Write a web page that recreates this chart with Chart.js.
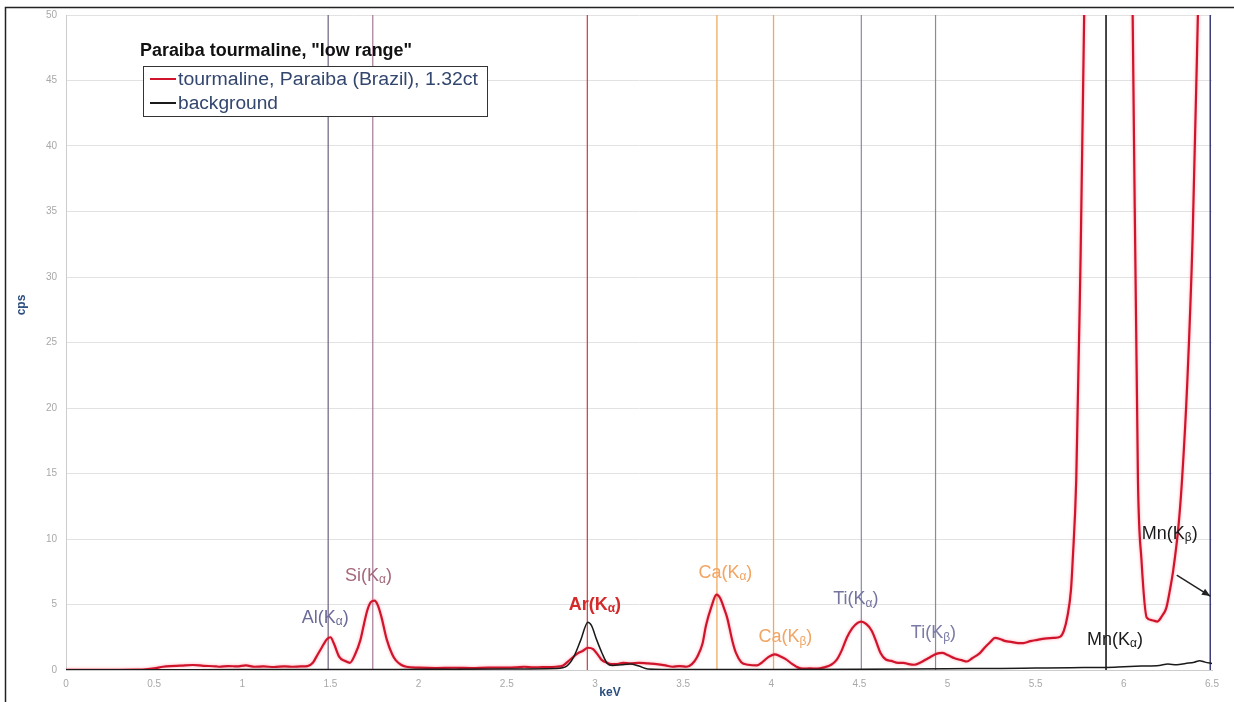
<!DOCTYPE html>
<html>
<head>
<meta charset="utf-8">
<script src="https://cdn.jsdelivr.net/npm/chart.js@4/dist/chart.umd.min.js"></script>
<style>
html,body{margin:0;padding:0;background:#fff;}
#wrap{position:relative;width:1234px;height:702px;}
canvas{display:block;}
</style>
</head>
<body>
<div id="wrap"><canvas id="c" width="1234" height="702"></canvas></div>
<script>
// ---------- DATA ----------
const chartTitle = 'Paraiba tourmaline, "low range"';
const seriesNames = ['tourmaline, Paraiba (Brazil), 1.32ct', 'background'];
const xAxisTitle = 'keV';
const yAxisTitle = 'cps';

const xTickValues = [0,0.5,1,1.5,2,2.5,3,3.5,4,4.5,5,5.5,6,6.5];
const xTickLabels = ['0','0.5','1','1.5','2','2.5','3','3.5','4','4.5','5','5.5','6','6.5'];
const yTickValues = [0,5,10,15,20,25,30,35,40,45,50];
const yTickLabels = ['0','5','10','15','20','25','30','35','40','45','50'];

const keVTourmaline = [
 0.00,0.10,0.20,0.30,0.40,0.45,0.50,0.55,0.59,0.65,0.72,0.78,0.85,0.87,0.92,0.97,1.02,1.07,1.12,1.18,1.24,1.29,1.33,1.37,
 1.40,1.42,1.45,1.48,1.50,1.52,1.55,1.58,1.61,1.64,1.67,1.69,1.71,1.73,1.75,1.77,1.79,1.82,1.85,1.87,1.90,1.93,
 2.00,2.10,2.20,2.30,2.40,2.50,2.55,2.60,2.65,2.70,2.78,2.82,2.86,2.90,2.93,2.96,2.99,3.02,3.04,3.07,3.09,3.12,3.16,3.20,
 3.25,3.30,3.35,3.40,3.44,3.48,3.52,3.55,3.58,3.61,3.63,3.66,3.69,3.71,3.73,3.75,3.78,3.80,3.83,3.87,3.92,3.95,3.98,
 4.02,4.05,4.08,4.12,4.15,4.18,4.22,4.26,4.30,4.34,4.37,4.40,4.43,4.46,4.49,4.51,4.54,4.57,4.60,4.62,4.65,4.68,4.72,
 4.75,4.78,4.81,4.85,4.89,4.94,4.97,5.00,5.04,5.08,5.11,5.14,5.18,5.21,5.24,5.27,5.30,5.33,5.36,5.40,5.43,5.47,5.51,
 5.55,5.60,5.64,5.66,5.68,5.70,5.71,5.73,5.75,5.775,5.80,5.85,5.90,5.95,6.00,6.03,6.05,6.08,6.10,6.13,6.16,6.19,6.22,
 6.24,6.26,6.28,6.31,6.33,6.36,6.39,6.42,6.46,6.50
];
const cpsTourmaline = [
 0.02,0.02,0.02,0.02,0.03,0.05,0.12,0.25,0.30,0.33,0.38,0.32,0.28,0.25,0.30,0.27,0.35,0.25,0.27,0.23,0.28,0.25,0.27,0.30,
 0.55,1.0,1.7,2.35,2.5,2.0,1.0,0.7,0.55,1.2,2.3,3.5,4.6,5.2,5.3,4.9,4.0,2.3,1.2,0.75,0.4,0.25,
 0.18,0.15,0.17,0.15,0.18,0.18,0.20,0.25,0.20,0.22,0.25,0.35,0.8,1.25,1.45,1.7,1.6,1.1,0.75,0.55,0.45,0.45,0.55,0.50,
 0.55,0.50,0.45,0.35,0.25,0.30,0.25,0.45,1.0,2.0,3.4,4.8,5.75,5.5,4.8,4.0,2.2,1.3,0.6,0.4,0.35,0.6,0.95,
 1.2,1.05,0.85,0.45,0.2,0.1,0.12,0.1,0.2,0.4,0.75,1.5,2.5,3.2,3.6,3.7,3.5,3.0,2.0,1.3,0.8,0.7,0.55,
 0.55,0.45,0.4,0.6,0.9,1.25,1.3,1.15,0.9,0.75,0.65,0.9,1.25,1.7,2.1,2.45,2.35,2.2,2.15,2.05,2.05,2.2,2.3,
 2.4,2.45,2.55,3.0,4.1,6.1,8.4,14.5,28,50,90,160,190,170,110,70,50,14.5,8.4,4.0,3.8,3.7,4.2,
 4.7,6.0,7.6,11,14.5,22,33,50,75,100
];

const keVBackground = [
 0.00,0.50,1.00,1.50,2.00,2.50,2.78,2.84,2.88,2.92,2.96,2.98,3.01,3.04,3.07,3.10,3.15,3.20,3.25,3.30,3.50,
 4.00,4.50,5.00,5.30,5.50,5.70,5.90,6.00,6.10,6.20,6.25,6.30,6.35,6.40,6.43,6.46,6.50
];
const cpsBackground = [
 0.02,0.02,0.03,0.03,0.05,0.08,0.12,0.3,1.0,2.3,3.65,3.4,2.3,1.3,0.5,0.35,0.4,0.45,0.3,0.08,0.03,
 0.03,0.05,0.1,0.12,0.15,0.18,0.2,0.25,0.3,0.35,0.45,0.4,0.5,0.6,0.7,0.6,0.5
];

// emission lines (energy in keV) and their labels
const lineNames    = ['Al(Kα)','Si(Kα)','Ar(Kα)','Ca(Kα)','Ca(Kβ)','Ti(Kα)','Ti(Kβ)','Mn(Kα)','Mn(Kβ)'];
const lineEnergies = [1.487, 1.740, 2.957, 3.692, 4.013, 4.511, 4.932, 5.899, 6.490];
// label anchor (data coords: keV, cps)
const labelKeV = [1.47, 1.716, 3.00, 3.74, 4.08, 4.48, 4.92, 5.95, 6.26];
const labelCps = [4.0, 7.2, 4.95, 7.4, 2.5, 5.4, 2.8, 2.3, 10.4];
// arrow pointing to Mn(Kβ) line (data coords)
const arrowFrom = [6.30, 7.24];
const arrowTo   = [6.49, 5.64];

// ---------- STYLES ----------
const lineColors  = ['#6e6280','#a57a98','#d24848','#f0a860','#f0a860','#8a88a4','#8a8a98','#333333','#3c3c78'];
const lineWidths  = [1.2,1.2,1.3,1.3,1.3,1.2,1.2,1.8,1.5];
const labelColors = ['#6b6b99','#a6677a','#d42a2a','#f2a462','#f2a462','#7474a0','#7a7aa5','#1a1a1a','#1a1a1a'];
const labelBold   = [false,false,true,false,false,false,false,false,false];
const seriesColors = ['#d0142c','#1a1a1a'];

// ---------- BUILD ----------
const toXY = (xs, ys) => xs.map((x, i) => ({x: x, y: ys[i]}));

const datasets = [
  {label: seriesNames[1], data: toXY(keVBackground, cpsBackground), borderColor: seriesColors[1], borderWidth: 1.5, pointRadius: 0, cubicInterpolationMode: 'monotone'},
  {label: seriesNames[0], data: toXY(keVTourmaline, cpsTourmaline), borderColor: seriesColors[0], borderWidth: 2.2, pointRadius: 0, cubicInterpolationMode: 'monotone', isSpectrum: true}
];
lineEnergies.forEach((e, i) => {
  datasets.push({label: lineNames[i], data: [{x: e, y: 0}, {x: e, y: 50}], borderColor: lineColors[i], borderWidth: lineWidths[i], pointRadius: 0, isMarker: true});
});

const decor = {
  id: 'decor',
  beforeDatasetDraw(chart, args) {
    const ds = chart.data.datasets[args.index];
    if (ds.isSpectrum) {
      chart.ctx.save();
      chart.ctx.shadowColor = 'rgba(255,90,110,0.55)';
      chart.ctx.shadowBlur = 3;
    }
  },
  afterDatasetDraw(chart, args) {
    const ds = chart.data.datasets[args.index];
    if (ds.isSpectrum) chart.ctx.restore();
  },
  afterDraw(chart) {
    const ctx = chart.ctx;
    const xs = chart.scales.x, ys = chart.scales.y;
    ctx.save();

    // outer frame
    ctx.strokeStyle = '#222';
    ctx.lineWidth = 1.5;
    ctx.beginPath();
    ctx.moveTo(5.5, 702); ctx.lineTo(5.5, 7.5); ctx.lineTo(1234, 7.5);
    ctx.stroke();

    // peak labels
    lineNames.forEach((name, i) => {
      const m = name.match(/^(.*\(K)(.)(\))$/);
      const main = m[1], sub = m[2], close = m[3];
      const fMain = (labelBold[i] ? 'bold ' : '') + '18px "Liberation Sans", Arial, sans-serif';
      const fSub = (labelBold[i] ? 'bold ' : '') + '12px "Liberation Sans", Arial, sans-serif';
      ctx.font = fMain; const w1 = ctx.measureText(main).width; const w3 = ctx.measureText(close).width;
      ctx.font = fSub; const w2 = ctx.measureText(sub).width;
      const total = w1 + w2 + w3;
      const cx = xs.getPixelForValue(labelKeV[i]);
      const cy = ys.getPixelForValue(labelCps[i]);
      let x = cx - total / 2;
      ctx.fillStyle = labelColors[i];
      ctx.textBaseline = 'middle';
      ctx.textAlign = 'left';
      ctx.font = fMain; ctx.fillText(main, x, cy); x += w1;
      ctx.font = fSub; ctx.fillText(sub, x, cy + 4); x += w2;
      ctx.font = fMain; ctx.fillText(close, x, cy);
    });

    // arrow
    const ax1 = xs.getPixelForValue(arrowFrom[0]), ay1 = ys.getPixelForValue(arrowFrom[1]);
    const ax2 = xs.getPixelForValue(arrowTo[0]), ay2 = ys.getPixelForValue(arrowTo[1]);
    ctx.strokeStyle = '#222'; ctx.fillStyle = '#222'; ctx.lineWidth = 1.5;
    ctx.beginPath(); ctx.moveTo(ax1, ay1); ctx.lineTo(ax2, ay2); ctx.stroke();
    const ang = Math.atan2(ay2 - ay1, ax2 - ax1);
    ctx.beginPath();
    ctx.moveTo(ax2, ay2);
    ctx.lineTo(ax2 - 9 * Math.cos(ang - 0.4), ay2 - 9 * Math.sin(ang - 0.4));
    ctx.lineTo(ax2 - 9 * Math.cos(ang + 0.4), ay2 - 9 * Math.sin(ang + 0.4));
    ctx.closePath(); ctx.fill();

    // title
    ctx.fillStyle = '#111';
    ctx.font = 'bold 18px "Liberation Sans", Arial, sans-serif';
    ctx.textAlign = 'left'; ctx.textBaseline = 'alphabetic';
    const tw = ctx.measureText(chartTitle).width;
    ctx.save(); ctx.translate(140, 56); ctx.scale(272 / tw, 1); ctx.fillText(chartTitle, 0, 0); ctx.restore();

    // legend box
    ctx.fillStyle = '#fff';
    ctx.fillRect(143, 66, 344, 50);
    ctx.strokeStyle = '#333'; ctx.lineWidth = 1;
    ctx.strokeRect(143.5, 66.5, 344, 50);
    const legendRows = [{name: seriesNames[0], color: seriesColors[0], y: 79, w: 300}, {name: seriesNames[1], color: seriesColors[1], y: 103, w: 100}];
    legendRows.forEach(r => {
      ctx.strokeStyle = r.color; ctx.lineWidth = 2;
      ctx.beginPath(); ctx.moveTo(150, r.y); ctx.lineTo(176, r.y); ctx.stroke();
      ctx.fillStyle = '#33466e';
      ctx.font = '18px "Liberation Sans", Arial, sans-serif';
      ctx.textBaseline = 'middle';
      const w = ctx.measureText(r.name).width;
      ctx.save(); ctx.translate(178, r.y + 1); ctx.scale(r.w / w, 1); ctx.fillText(r.name, 0, 0); ctx.restore();
    });

    // axis titles
    ctx.fillStyle = '#2c4f80';
    ctx.font = 'bold 12px "Liberation Sans", Arial, sans-serif';
    ctx.textAlign = 'center'; ctx.textBaseline = 'middle';
    ctx.fillText(xAxisTitle, 610, 693);
    ctx.save(); ctx.translate(22, 305); ctx.rotate(-Math.PI / 2); ctx.fillText(yAxisTitle, 0, 0); ctx.restore();

    ctx.restore();
  }
};

new Chart(document.getElementById('c'), {
  type: 'line',
  data: {datasets: datasets},
  options: {
    responsive: false,
    animation: false,
    devicePixelRatio: 1,
    layout: {padding: {top: 14, right: 22, left: 0, bottom: 0}},
    plugins: {legend: {display: false}, tooltip: {enabled: false}, title: {display: false}},
    scales: {
      x: {
        type: 'linear', min: 0, max: 6.5,
        afterBuildTicks: s => { s.ticks = xTickValues.map(v => ({value: v})); },
        afterFit: s => { s.height = 32; },
        grid: {display: false, drawTicks: false},
        border: {display: true, color: '#cccccc'},
        ticks: {padding: 8, color: '#a8a8a8', font: {size: 10, family: '"Liberation Sans", Arial, sans-serif'},
                callback: (v, i) => xTickLabels[i], maxRotation: 0, autoSkip: false}
      },
      y: {
        type: 'linear', min: 0, max: 50,
        afterBuildTicks: s => { s.ticks = yTickValues.map(v => ({value: v})); },
        afterFit: s => { s.width = 66; },
        grid: {color: '#e2e2e2', drawTicks: false, lineWidth: 1},
        border: {display: true, color: '#cccccc'},
        ticks: {padding: 9, color: '#a8a8a8', font: {size: 10, family: '"Liberation Sans", Arial, sans-serif'},
                callback: (v, i) => yTickLabels[i], autoSkip: false}
      }
    }
  },
  plugins: [decor]
});
</script>
</body>
</html>
